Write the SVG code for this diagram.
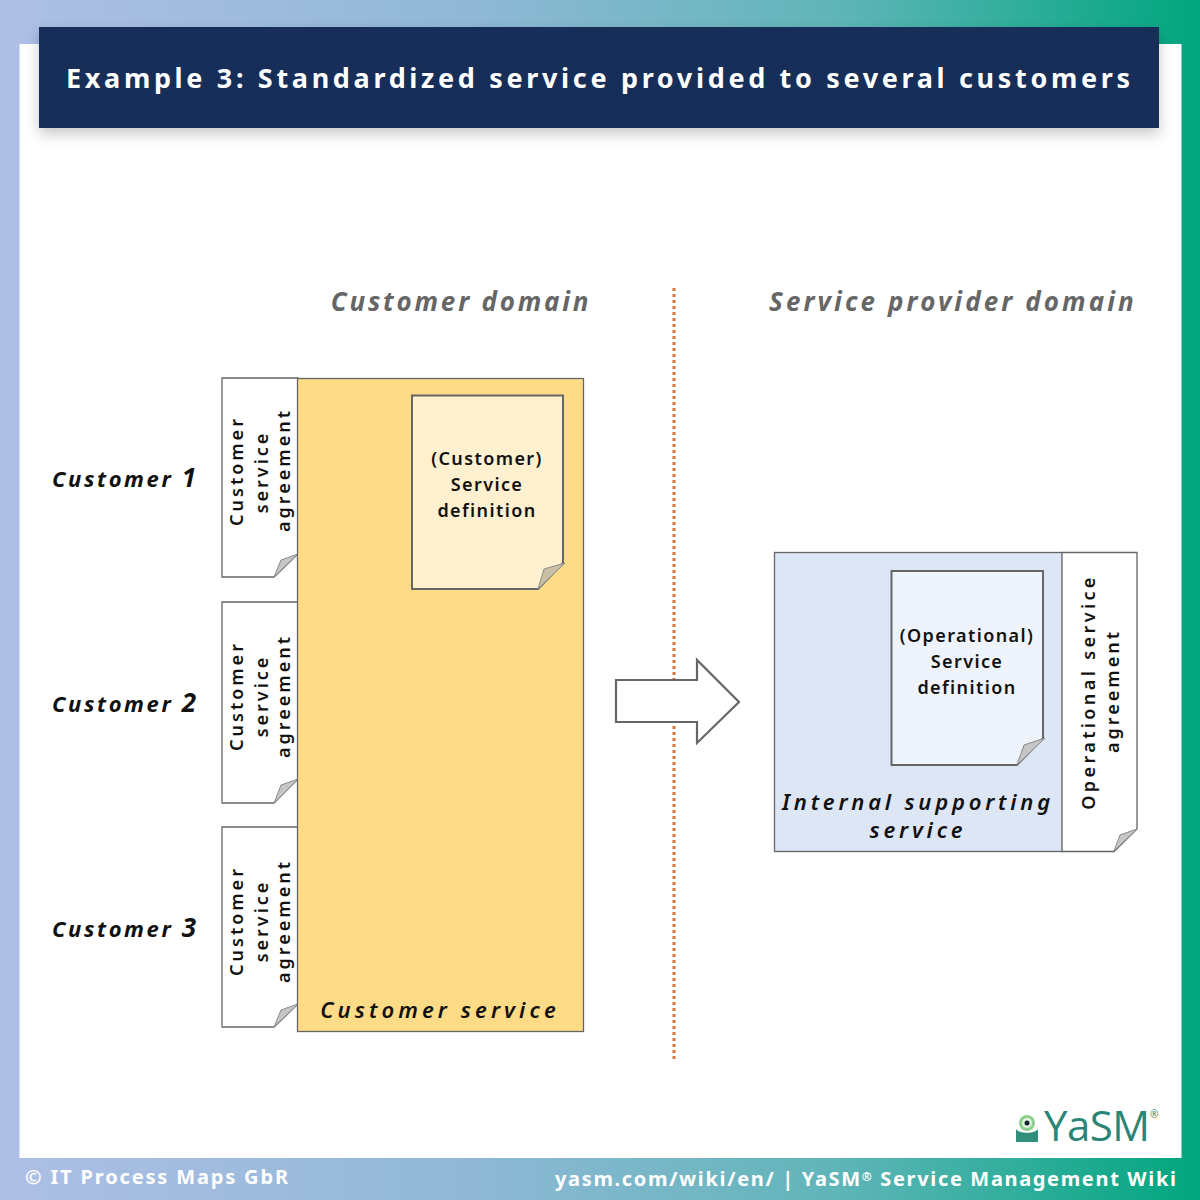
<svg xmlns="http://www.w3.org/2000/svg" width="1200" height="1200" viewBox="0 0 1200 1200">
<defs>
<linearGradient id="bg" x1="0" y1="0" x2="1" y2="0"><stop offset="0" stop-color="#aebfe6"/><stop offset="0.4" stop-color="#8fb8d6"/><stop offset="0.7" stop-color="#5fb5b8"/><stop offset="1" stop-color="#00a67e"/></linearGradient>
<filter id="sh" x="-5%" y="-20%" width="110%" height="150%"><feDropShadow dx="0" dy="6" stdDeviation="7" flood-color="#000" flood-opacity="0.22"/></filter>
</defs>
<style>
text{font-family:"Noto Sans","Open Sans","DejaVu Sans",sans-serif;fill:#111}
.box{stroke:#666;stroke-width:1.3}
.doc{stroke:#666;stroke-width:2}
.fold{fill:#c6c6c6;stroke:#8a8a8a;stroke-width:1}
.v{font-size:18px;font-weight:600;letter-spacing:3px;text-anchor:middle}
.d{font-size:18px;font-weight:600;letter-spacing:1.4px;text-anchor:middle}
.i{font-size:22px;font-style:italic;font-weight:600;letter-spacing:3.8px;text-anchor:middle}
.c{font-size:22px;font-style:italic;font-weight:700;letter-spacing:2.6px}
.dom{font-size:26px;font-style:italic;font-weight:700;letter-spacing:2.8px;fill:#666;text-anchor:middle}
.foot{font-size:20px;font-weight:700;fill:#fff;letter-spacing:2px}
</style>
<rect id="background" width="1200" height="1200" fill="url(#bg)"/>
<rect id="panel" x="19.500" y="44" width="1162" height="1114" fill="#fff"/>
<g id="title"><rect x="39" y="27" width="1120" height="101" fill="#142f59" filter="url(#sh)"/>
<text x="598" y="88" text-anchor="middle" textLength="1064" lengthAdjust="spacing" style="font-size:27px;font-weight:700;fill:#fff">Example 3: Standardized service provided to several customers</text></g>
<g id="divider"><line x1="674" y1="288" x2="674" y2="1062" stroke="#d9743a" stroke-width="3" stroke-dasharray="3 3"/></g>
<text id="domain-customer" class="dom" x="461" y="311">Customer domain</text>
<text id="domain-provider" class="dom" x="953" y="311" style="letter-spacing:3.1px">Service provider domain</text>

<g id="agreement-1"><path class="box" fill="#fff" d="M222 378H298V554L274 577H222Z"/><path class="fold" d="M274 577L281 560L298 554Z"/>
<text class="v" transform="translate(243,471) rotate(-90)">Customer</text><text class="v" transform="translate(268,472) rotate(-90)">service</text><text class="v" transform="translate(290,470) rotate(-90)">agreement</text></g>
<g id="agreement-2"><path class="box" fill="#fff" d="M222 602H298V779L274 803H222Z"/><path class="fold" d="M274 803L281 785L298 779Z"/>
<text class="v" transform="translate(243,696) rotate(-90)">Customer</text><text class="v" transform="translate(268,696) rotate(-90)">service</text><text class="v" transform="translate(290,696) rotate(-90)">agreement</text></g>
<g id="agreement-3"><path class="box" fill="#fff" d="M222 827H298V1004L274 1027H222Z"/><path class="fold" d="M274 1027L281 1010L298 1004Z"/>
<text class="v" transform="translate(243,921) rotate(-90)">Customer</text><text class="v" transform="translate(268,921) rotate(-90)">service</text><text class="v" transform="translate(290,921) rotate(-90)">agreement</text></g>

<g id="customer-service"><rect class="box" x="297.500" y="378.500" width="286" height="653" fill="#fedb86"/>
<text class="i" x="440" y="1018" style="letter-spacing:4.1px">Customer service</text></g>
<g id="customer-definition"><path class="doc" fill="#fff0cf" d="M412 395.500H563V563L538 589H412Z"/><path class="fold" style="fill:#c9c0a6" d="M538 589L544 569L565 563Z"/>
<text class="d" x="487" y="465">(Customer)</text><text class="d" x="487" y="491">Service</text><text class="d" x="487" y="517">definition</text></g>

<text id="label-1" class="c" x="52" y="487">Customer <tspan style="font-size:26px">1</tspan></text>
<text id="label-2" class="c" x="52" y="712">Customer <tspan style="font-size:26px">2</tspan></text>
<text id="label-3" class="c" x="52" y="937">Customer <tspan style="font-size:26px">3</tspan></text>

<g id="connectors"><path d="M616 680H697V660L739 702L697 743V722H616Z" fill="#fff" stroke="#666" stroke-width="2.200"/></g>

<g id="internal-service"><rect class="box" x="774.500" y="552.500" width="288" height="299" fill="#dde6f5"/>
<text class="i" x="918" y="810">Internal supporting</text><text class="i" x="918" y="838">service</text></g>
<g id="operational-definition"><path class="doc" fill="#eff4fc" d="M891.500 571H1043V738L1017 765H891.500Z"/><path class="fold" d="M1017 765L1024 745L1045 738Z"/>
<text class="d" x="967" y="642">(Operational)</text><text class="d" x="967" y="668">Service</text><text class="d" x="967" y="694">definition</text></g>
<g id="operational-agreement"><path class="box" fill="#fff" d="M1062 552.500H1137V829L1114 851.500H1062Z"/><path class="fold" d="M1114 851L1120 835L1137 829Z"/>
<text class="v" transform="translate(1095,692) rotate(-90)" style="letter-spacing:3.4px">Operational service</text><text class="v" transform="translate(1119,691) rotate(-90)">agreement</text></g>

<g id="logo"><path d="M1016 1129C1019 1134 1035 1134 1038 1129V1142H1016Z" fill="#2f8f7a"/><circle cx="1027" cy="1123" r="8" fill="#8ed18f"/><circle cx="1027" cy="1123" r="5" fill="#e6f5e0"/><circle cx="1027" cy="1123" r="2.500" fill="#123"/>
<text x="1044" y="1141" style="font-family:'Open Sans',sans-serif;font-size:42px;font-weight:400;fill:#2a8577" textLength="106">YaSM</text>
<text x="1150" y="1118" style="font-size:10px;fill:#2a8577">®</text></g>
<text id="copyright" class="foot" x="25" y="1184" textLength="265">© IT Process Maps GbR</text>
<text id="wiki" class="foot" x="555" y="1186" textLength="623">yasm.com/wiki/en/ | YaSM<tspan dy="-5" style="font-size:12px">®</tspan><tspan dy="5"> Service Management Wiki</tspan></text>
</svg>
